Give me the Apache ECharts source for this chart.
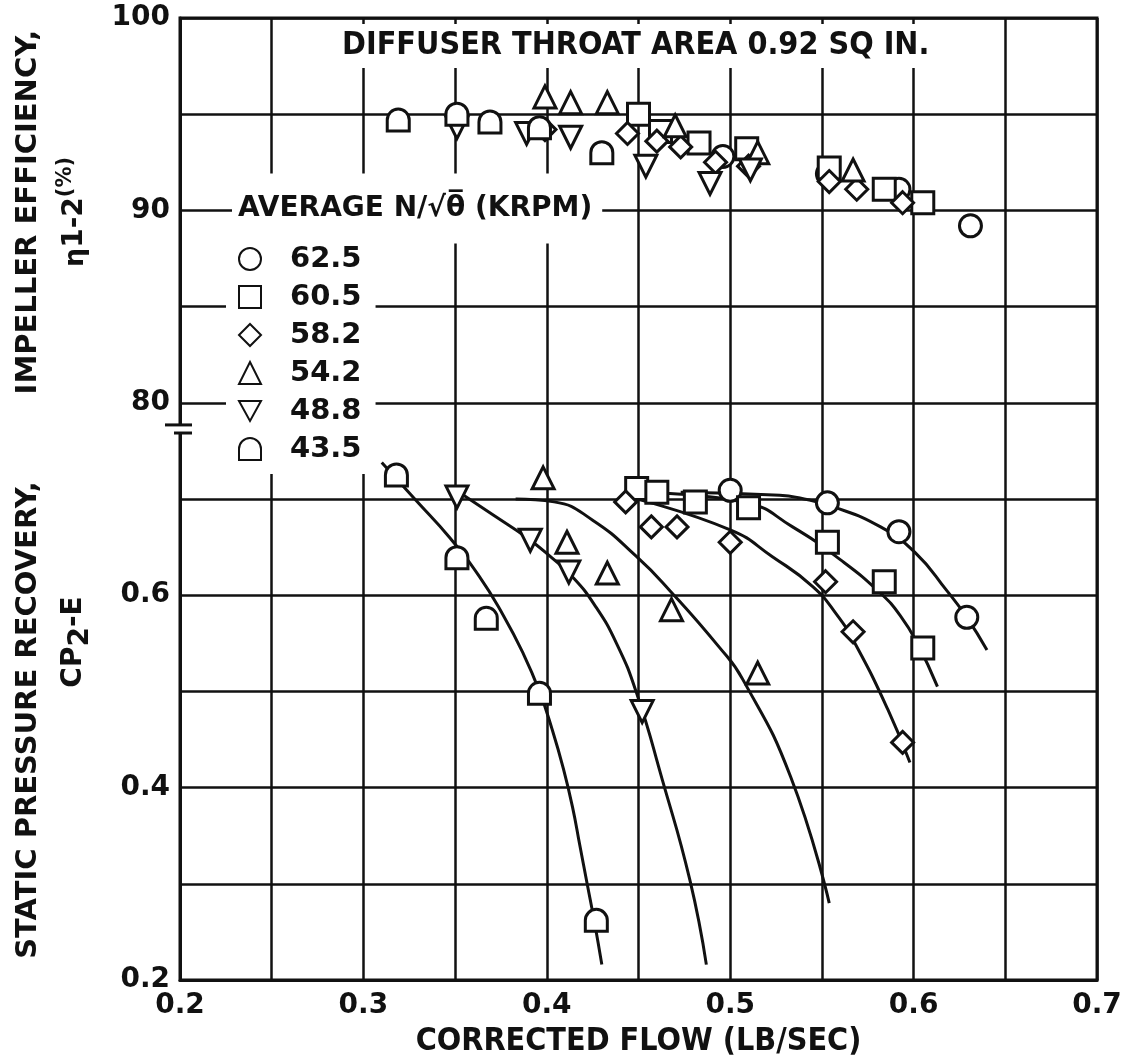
<!DOCTYPE html>
<html>
<head>
<meta charset="utf-8">
<script src="https://cdn.jsdelivr.net/npm/echarts@6/dist/echarts.min.js"></script>
<style>
  html, body { margin: 0; padding: 0; background: #fff; }
  #chart { width: 1133px; height: 1061px; }
</style>
</head>
<body>
<div id="chart"></div>
<script>
// speeds (legend) and their marker shapes
const speeds = ['62.5', '60.5', '58.2', '54.2', '48.8', '43.5'];
const symbols = [
  'circle', 'rect', 'diamond', 'triangle',
  'path://M0,0L10,0L5,9Z',
  'path://M0,10L0,5A5,5 0 0 1 10,5L10,10Z'
];

// axis labels actually printed
const flowLabels = [0.2, 0.3, 0.4, 0.5, 0.6, 0.7];
const effLabels = [80, 90, 100];
const cpLabels = [0.2, 0.4, 0.6];

// impeller efficiency, [flow, eta %]
const eff625 = [[0.496, 92.8], [0.553, 91.9], [0.592, 91.1], [0.631, 89.2]];
const eff605 = [[0.450, 95.0], [0.462, 94.1], [0.483, 93.5], [0.509, 93.2], [0.554, 92.2], [0.584, 91.1], [0.605, 90.4]];
const eff582 = [[0.399, 94.2], [0.444, 94.0], [0.460, 93.6], [0.473, 93.3], [0.492, 92.5], [0.510, 92.3], [0.554, 91.5], [0.569, 91.1], [0.594, 90.4]];
const eff542 = [[0.399, 95.9], [0.413, 95.6], [0.433, 95.6], [0.470, 94.4], [0.515, 93.0], [0.567, 92.1]];
const eff488 = [[0.351, 94.3], [0.389, 94.0], [0.413, 93.8], [0.454, 92.3], [0.489, 91.4], [0.511, 92.1]];
const eff435 = [[0.319, 94.7], [0.351, 95.0], [0.369, 94.6], [0.396, 94.3], [0.430, 93.0]];

// static pressure recovery, [flow, CP]
const cp625 = [[0.500, 0.709], [0.553, 0.696], [0.592, 0.666], [0.629, 0.577]];
const cp605 = [[0.449, 0.711], [0.460, 0.707], [0.481, 0.697], [0.510, 0.691], [0.553, 0.655], [0.584, 0.614], [0.605, 0.545]];
const cp582 = [[0.443, 0.697], [0.457, 0.671], [0.471, 0.671], [0.500, 0.655], [0.552, 0.614], [0.567, 0.562], [0.594, 0.447]];
const cp542 = [[0.398, 0.722], [0.411, 0.655], [0.433, 0.623], [0.468, 0.585], [0.515, 0.519]];
const cp488 = [[0.351, 0.702], [0.391, 0.657], [0.412, 0.624], [0.452, 0.479]];
const cp435 = [[0.318, 0.725], [0.351, 0.639], [0.367, 0.576], [0.396, 0.498], [0.427, 0.262]];

// faired curves through the CP data
const fair625 = [[0.473, 0.707], [0.527, 0.704], [0.538, 0.701], [0.556, 0.692], [0.582, 0.671], [0.601, 0.644], [0.618, 0.605], [0.629, 0.577], [0.640, 0.543]];
const fair605 = [[0.460, 0.706], [0.509, 0.696], [0.534, 0.671], [0.560, 0.637], [0.582, 0.602], [0.593, 0.578], [0.602, 0.550], [0.613, 0.505]];
const fair582 = [[0.445, 0.702], [0.500, 0.668], [0.523, 0.640], [0.545, 0.609], [0.558, 0.580], [0.568, 0.550], [0.586, 0.481], [0.598, 0.426]];
const fair542 = [[0.383, 0.700], [0.404, 0.697], [0.425, 0.678], [0.449, 0.640], [0.467, 0.605], [0.494, 0.546], [0.507, 0.512], [0.533, 0.411], [0.554, 0.280]];
const fair488 = [[0.353, 0.706], [0.371, 0.683], [0.389, 0.660], [0.402, 0.640], [0.414, 0.619], [0.426, 0.590], [0.438, 0.550], [0.449, 0.498], [0.463, 0.408], [0.478, 0.304], [0.487, 0.216]];
const fair435 = [[0.310, 0.738], [0.328, 0.700], [0.347, 0.660], [0.363, 0.620], [0.376, 0.580], [0.387, 0.540], [0.396, 0.500], [0.403, 0.460], [0.409, 0.420], [0.414, 0.380], [0.418, 0.340], [0.422, 0.300], [0.426, 0.260], [0.430, 0.216]];

const effSets = [eff625, eff605, eff582, eff542, eff488, eff435];
const cpSets = [cp625, cp605, cp582, cp542, cp488, cp435];
const fairSets = [fair625, fair605, fair582, fair542, fair488, fair435];

const INK = '#111';
const SANS = "'DejaVu Sans', 'Noto Sans', sans-serif";
const NARROW = "'DejaVu Sans Condensed', 'Liberation Sans Narrow', 'DejaVu Sans', sans-serif";

const chart = echarts.init(document.getElementById('chart'), null, { renderer: 'canvas' });

function near(v, list, eps){
  return list.some(function(t){ return Math.abs(v - t) < eps; });
}

const markStyle = { color: '#fff', borderColor: INK, borderWidth: 3, opacity: 1 };
const series = [];
speeds.forEach(function(name, i){
  series.push({
    type: 'line', name: 'fair ' + name, yAxisIndex: 1, data: fairSets[i],
    smooth: 0.5, symbol: 'none', silent: true, z: 2,
    lineStyle: { color: INK, width: 3 }
  });
});
speeds.forEach(function(name, i){
  series.push({
    type: 'scatter', name: name, yAxisIndex: 0, data: effSets[i],
    symbol: symbols[i], symbolSize: 22, z: 3, itemStyle: markStyle
  });
  series.push({
    type: 'scatter', name: name, yAxisIndex: 1, data: cpSets[i],
    symbol: symbols[i], symbolSize: 22, z: 3, itemStyle: markStyle
  });
});

chart.setOption({
  backgroundColor: '#fff',
  animation: false,
  grid: {
    left: 180, right: 36, top: 18, bottom: 81, outerBoundsMode: 'none', containLabel: false,
    show: true, borderColor: INK, borderWidth: 3
  },
  xAxis: {
    type: 'value', min: 0.2, max: 0.7, interval: 0.05,
    axisLine: { lineStyle: { color: INK, width: 3 } },
    axisTick: { show: false },
    splitLine: { lineStyle: { color: INK, width: 2.5 } },
    axisLabel: {
      color: INK, fontFamily: SANS, fontWeight: 'bold', fontSize: 28, margin: 12,
      formatter: function(v){ return near(v, flowLabels, 1e-6) ? v.toFixed(1) : ''; }
    },
    name: 'CORRECTED FLOW (LB/SEC)', nameLocation: 'middle', nameGap: 46,
    nameTextStyle: { color: INK, fontFamily: NARROW, fontWeight: 'bold', fontSize: 32 }
  },
  yAxis: [{
    type: 'value', min: 50, max: 100, interval: 5, position: 'left',
    axisLine: { show: true, lineStyle: { color: INK, width: 3 } },
    axisTick: { show: false },
    splitLine: { lineStyle: { color: INK, width: 2.5 } },
    axisLabel: {
      color: INK, fontFamily: SANS, fontWeight: 'bold', fontSize: 28, margin: 10,
      formatter: function(v){ return near(v, effLabels, 1e-6) ? String(v) : ''; }
    }
  }, {
    type: 'value', min: 0.2, max: 1.2, interval: 0.1, position: 'left',
    axisLine: { show: false }, axisTick: { show: false }, splitLine: { show: false },
    axisLabel: {
      color: INK, fontFamily: SANS, fontWeight: 'bold', fontSize: 28, margin: 10,
      formatter: function(v){ return near(v, cpLabels, 1e-6) ? v.toFixed(1) : ''; }
    }
  }],
  legend: {
    data: speeds, orient: 'vertical', left: 226, top: 238,
    padding: [6, 14, 10, 12], backgroundColor: '#fff',
    itemWidth: 22, itemHeight: 22, itemGap: 8,
    textStyle: { color: INK, fontFamily: SANS, fontWeight: 'bold', fontSize: 29, lineHeight: 30, padding: [0, 0, 0, 24] },
    selectedMode: false
  },
  series: series
});

// decorations placed from the axes' own scales
const x0 = chart.convertToPixel({ xAxisIndex: 0 }, 0.2);
const yBreakTop = chart.convertToPixel({ yAxisIndex: 0 }, 78.85);
const yBreakBot = chart.convertToPixel({ yAxisIndex: 0 }, 78.43);
const yLegendTitle = chart.convertToPixel({ yAxisIndex: 0 }, 90.1);
const xTitle = chart.convertToPixel({ xAxisIndex: 0 }, 0.4485);

chart.setOption({
  graphic: [
    { type: 'rect', z: 10, shape: { x: x0 - 4, y: yBreakTop + 1, width: 8, height: yBreakBot - yBreakTop - 2 }, style: { fill: '#fff' } },
    { type: 'line', z: 11, shape: { x1: x0 - 15, y1: yBreakTop, x2: x0 + 12, y2: yBreakTop }, style: { stroke: INK, lineWidth: 3 } },
    { type: 'line', z: 11, shape: { x1: x0 - 6, y1: yBreakBot, x2: x0 + 12, y2: yBreakBot }, style: { stroke: INK, lineWidth: 3 } },
    {
      type: 'text', z: 10, x: xTitle, y: 46,
      style: {
        text: 'DIFFUSER THROAT AREA 0.92 SQ IN.', fill: INK, font: 'bold 32px ' + NARROW,
        align: 'center', verticalAlign: 'middle', backgroundColor: '#fff', padding: [6, 8, 6, 8]
      }
    },
    {
      type: 'text', z: 10, x: 232, y: yLegendTitle,
      style: {
        text: 'AVERAGE N/\u221A\u03B8\u0305 (KRPM)', fill: INK, font: 'bold 28px ' + SANS,
        align: 'left', verticalAlign: 'middle', backgroundColor: '#fff', padding: [28, 10, 14, 6]
      }
    },
    {
      type: 'text', x: 28, y: 212, rotation: Math.PI / 2,
      style: { text: 'IMPELLER EFFICIENCY,', fill: INK, font: 'bold 29px ' + SANS, align: 'center', verticalAlign: 'middle' }
    },
    {
      type: 'text', x: 72, y: 212, rotation: Math.PI / 2,
      style: {
        text: '{e|\u03B7}{s|1-2}{p|(%)}', align: 'center', verticalAlign: 'middle',
        rich: {
          e: { fill: INK, font: 'bold 27px ' + SANS, padding: [8, 0, 0, 0] },
          s: { fill: INK, font: 'bold 28px ' + SANS, padding: [6, 0, 0, 0] },
          p: { fill: INK, font: 'bold 21px ' + SANS, padding: [0, 0, 12, 0] }
        }
      }
    },
    {
      type: 'text', x: 28, y: 720, rotation: Math.PI / 2,
      style: { text: 'STATIC PRESSURE RECOVERY,', fill: INK, font: 'bold 29px ' + SANS, align: 'center', verticalAlign: 'middle' }
    },
    {
      type: 'text', x: 74, y: 642, rotation: Math.PI / 2,
      style: {
        text: '{n|CP}{s|2}{n|-E}', align: 'center', verticalAlign: 'middle',
        rich: {
          n: { fill: INK, font: 'bold 28px ' + SANS },
          s: { fill: INK, font: 'bold 28px ' + SANS, padding: [14, 0, 0, 0] }
        }
      }
    }
  ]
});

window.addEventListener('resize', function(){ chart.resize(); });
</script>
</body>
</html>
